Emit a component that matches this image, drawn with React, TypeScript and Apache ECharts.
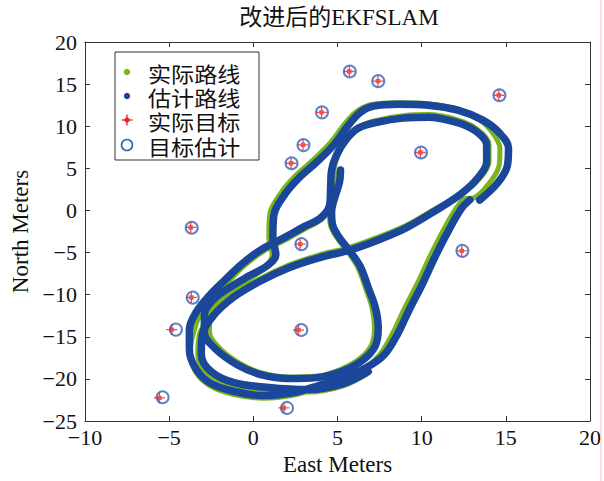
import React, { useEffect, useRef } from "react";
import * as echarts from "echarts";

const FONT = '"Liberation Serif", "Noto Sans CJK SC", serif';
const CJK = '"Noto Sans CJK SC", sans-serif';

const titleText = "改进后的EKFSLAM";
const xName = "East Meters";
const yName = "North Meters";
const legendNames = ["实际路线", "估计路线", "实际目标", "目标估计"];
const xTickLabels = ["−10", "−5", "0", "5", "10", "15", "20"];
const yTickLabels = ["−25", "−20", "−15", "−10", "−5", "0", "5", "10", "15", "20"];

// estimated path, first strand (start -> inner bottom loop -> outer top arc)
const estPathA: number[][] = [
  [5.18, 4.8], [5.12, 3.38], [4.83, 1.48], [4.65, -0.18], [4.71, -1.72], [5.12, -3.26],
  [5.77, -4.92], [6.36, -6.69], [6.83, -9.18], [7.25, -11.55], [7.42, -13.92], [7.25, -16.05],
  [6.54, -17.71], [5.36, -19.02], [3.76, -19.85], [2.11, -19.96], [0.45, -19.49], [-0.96, -18.31],
  [-2.2, -16.53], [-2.91, -14.51], [-2.91, -12.38], [-2.38, -10.6], [-1.44, -9.18], [-0.25, -7.76],
  [0.81, -6.58], [1.34, -5.27], [1.16, -3.26], [1.22, -0.53], [1.93, 2.07], [2.7, 3.85],
  [3.7, 5.63], [4.77, 7.76], [5.65, 10.13], [6.36, 11.67], [7.13, 12.38], [8.61, 12.62],
  [10.38, 12.5], [12.15, 11.91], [13.63, 10.72], [14.63, 9.18], [15.16, 7.41], [15.1, 5.39],
  [14.51, 3.26], [13.45, 1.24],
];

// estimated path, second strand (after the jump)
const estPathB: number[][] = [
  [12.86, 1.24], [12.39, 0.3], [11.68, -2.07], [10.85, -5.27], [10.08, -8.59], [9.26, -11.79],
  [8.55, -14.75], [7.78, -17.12], [6.72, -18.66], [5.36, -19.85], [3.88, -20.79], [2.4, -21.62],
  [0.63, -21.98], [-1.14, -21.5], [-2.5, -20.56], [-3.38, -18.9], [-3.8, -16.53], [-3.8, -14.16],
  [-3.38, -12.03], [-2.62, -10.13], [-1.67, -8.23], [-0.67, -6.34], [0.45, -4.68], [1.81, -3.26],
  [2.99, -1.95], [4.0, -0.89], [4.53, 0.65], [4.59, 2.67], [4.65, 4.8], [4.94, 6.58],
  [5.53, 8.47], [6.24, 9.77], [7.42, 10.49], [8.9, 10.96], [10.38, 11.08], [12.03, 10.49],
  [13.21, 9.42], [13.86, 7.76], [13.86, 5.75], [13.33, 3.85], [12.33, 1.96], [10.79, -0.06],
  [9.08, -2.07], [7.42, -3.5], [5.77, -4.68], [3.88, -5.63], [2.11, -6.81], [0.34, -8.47],
  [-1.14, -10.25], [-2.32, -12.38], [-3.03, -14.75], [-3.09, -17.12], [-2.5, -19.13], [-1.14, -20.44],
  [0.93, -21.03], [3.29, -21.27], [5.36, -20.56], [6.83, -19.13],
];

// actual path
const truePath: number[][] = [
  [5.05, 4.75], [4.98, 3.35], [4.7, 1.45], [4.52, -0.2], [4.58, -1.75], [4.98, -3.3],
  [5.62, -4.95], [6.2, -6.72], [6.66, -9.2], [7.05, -11.55], [7.2, -13.9], [7.02, -15.95],
  [6.35, -17.55], [5.2, -18.85], [3.7, -19.7], [2.1, -19.8], [0.5, -19.3], [-0.8, -18.15],
  [-1.95, -16.45], [-2.6, -14.5], [-2.6, -12.45], [-2.1, -10.75], [-1.25, -9.4], [-0.1, -7.95],
  [0.7, -6.75], [1.12, -5.3], [0.92, -3.2], [0.98, -0.4], [1.7, 2.25], [2.47, 4.05],
  [3.47, 5.85], [4.55, 7.98], [5.45, 10.35], [6.2, 11.85], [7.05, 12.58], [8.6, 12.8],
  [10.4, 12.68], [12.1, 12.05], [13.45, 10.75], [14.25, 9.1], [14.65, 7.35], [14.6, 5.35],
  [14.0, 3.2], [13.1, 1.5],
  [12.6, 1.4], [12.1, 0.4], [11.38, -2.0], [10.55, -5.2], [9.78, -8.52], [8.96, -11.72],
  [8.25, -14.7], [7.5, -17.15], [6.55, -18.85], [5.25, -20.1], [3.8, -21.1], [2.35, -21.95],
  [0.6, -22.3], [-1.15, -21.85], [-2.55, -20.85], [-3.45, -19.1], [-3.75, -16.6], [-3.5, -14.2],
  [-3.1, -12.1], [-2.35, -10.3], [-1.45, -8.4], [-0.5, -6.5], [0.6, -4.85], [1.95, -3.45],
  [3.1, -2.15], [4.1, -1.0], [4.65, 0.6], [4.72, 2.65], [4.78, 4.8], [5.05, 6.65],
  [5.65, 8.6], [6.3, 9.95], [7.45, 10.75], [8.9, 11.25], [10.4, 11.38], [12.05, 10.8],
  [13.3, 9.65], [14.0, 7.85], [14.0, 5.75], [13.45, 3.8], [12.4, 1.95], [10.85, 0.25],
  [9.1, -1.75], [7.42, -3.15], [5.77, -4.35], [3.88, -5.3], [2.11, -6.5], [0.3, -8.2],
  [-1.2, -10.0], [-2.4, -12.2], [-3.2, -14.7], [-3.3, -17.2], [-2.7, -19.35], [-1.25, -20.75],
  [0.9, -21.35], [3.3, -21.55], [5.3, -20.85], [6.75, -19.4],
];

const trueLandmarks: number[][] = [
  [5.7, 16.5], [7.4, 15.35], [14.58, 13.68], [4.05, 11.65], [2.95, 7.78], [9.92, 6.88],
  [2.24, 5.6], [-3.72, -2.02], [2.78, -4.0], [12.38, -4.8], [-3.68, -10.33], [-4.85, -14.15],
  [2.68, -14.2], [-5.58, -22.25], [1.81, -23.45],
];

const estLandmarks: number[][] = [
  [5.73, 16.5], [7.42, 15.35], [14.62, 13.68], [4.08, 11.65], [2.98, 7.76], [9.96, 6.88],
  [2.27, 5.6], [-3.66, -2.06], [2.86, -4.0], [12.42, -4.8], [-3.6, -10.35], [-4.6, -14.15],
  [2.85, -14.2], [-5.39, -22.18], [2.0, -23.45],
];

const GREEN = "#7ab51e";
const BLUE = "#1a4799";
const RED = "#ea2028";
const RING = "#3563b8";
const AX = "#333333";

const plusPath =
  "path://M4.4,0L5.6,0L5.6,3L7,3L7,4.4L10,4.4L10,5.6L7,5.6L7,7L5.6,7L5.6,10L4.4,10L4.4,7L3,7L3,5.6L0,5.6L0,4.4L3,4.4L3,3L4.4,3Z";

function baseAxis(extra: any) {
  return {
    type: "value",
    splitLine: { show: false },
    axisLine: { show: true, onZero: false, lineStyle: { color: AX, width: 1 } },
    axisTick: { show: true, inside: true, length: 5, lineStyle: { color: AX } },
    ...extra,
  };
}

export default function App() {
  const ref = useRef<HTMLDivElement>(null);
  useEffect(() => {
    const chart = echarts.init(ref.current as HTMLDivElement, null, { renderer: "svg" });
    const rowY = [72, 96, 120, 145];
    const legendX = 127;
    chart.setOption({
      animation: false,
      backgroundColor: "#ffffff",
      textStyle: { fontFamily: FONT },
      title: {
        text: titleText,
        left: 339,
        top: 6,
        padding: 0,
        textAlign: "center",
        textStyle: { fontSize: 23, fontWeight: "normal", color: "#111", fontFamily: FONT },
      },
      grid: { left: 85, right: 11, top: 42, bottom: 59 },
      xAxis: [
        baseAxis({
          min: -10, max: 20, interval: 5, position: "bottom",
          name: xName, nameLocation: "middle", nameGap: 32,
          nameTextStyle: { fontSize: 23, color: "#111", fontFamily: FONT },
          axisLabel: { fontSize: 22, color: "#111", margin: 5, fontFamily: FONT,
            formatter: (_v: number, i: number) => xTickLabels[i] },
        }),
        baseAxis({ min: -10, max: 20, interval: 5, position: "top", axisLabel: { show: false } }),
      ],
      yAxis: [
        baseAxis({
          min: -25, max: 20, interval: 5, position: "left",
          name: yName, nameLocation: "middle", nameGap: 52,
          nameTextStyle: { fontSize: 23, color: "#111", fontFamily: FONT },
          axisLabel: { fontSize: 22, color: "#111", margin: 8, fontFamily: FONT,
            formatter: (_v: number, i: number) => yTickLabels[i] },
        }),
        baseAxis({ min: -25, max: 20, interval: 5, position: "right", axisLabel: { show: false } }),
      ],
      series: [
        {
          name: legendNames[0], type: "line", data: truePath, smooth: 0.35, showSymbol: false,
          lineStyle: { color: GREEN, width: 5 }, z: 2, silent: true,
        },
        {
          name: legendNames[1], type: "line", data: estPathA, smooth: 0.35, showSymbol: false,
          lineStyle: { color: BLUE, width: 7.5, cap: "round" }, z: 3, silent: true,
        },
        {
          name: legendNames[1], type: "line", data: estPathB, smooth: 0.35, showSymbol: false,
          lineStyle: { color: BLUE, width: 7.5, cap: "round" }, z: 3, silent: true,
        },
        {
          name: legendNames[3], type: "scatter", data: estLandmarks, symbol: "emptyCircle",
          symbolSize: 12, itemStyle: { color: RING, borderColor: RING, borderWidth: 1.6 }, z: 4,
        },
        {
          name: legendNames[2], type: "scatter", data: trueLandmarks, symbol: plusPath,
          symbolSize: 11, itemStyle: { color: RED }, z: 5,
        },
      ],
      graphic: [
        { type: "line", shape: { x1: 601, y1: 0, x2: 601, y2: 481 }, style: { stroke: "#f3c2c2", lineWidth: 1 }, z: 1 },
        {
          type: "group", z: 100,
          children: [
            { type: "rect", shape: { x: 115, y: 52, width: 144, height: 108 },
              style: { fill: "#ffffff", stroke: AX, lineWidth: 1 } },
            { type: "circle", shape: { cx: legendX, cy: rowY[0], r: 3.2 }, style: { fill: GREEN } },
            { type: "circle", shape: { cx: legendX, cy: rowY[1], r: 3.2 }, style: { fill: BLUE } },
            { type: "line", shape: { x1: legendX - 5.5, y1: rowY[2], x2: legendX + 5.5, y2: rowY[2] }, style: { stroke: RED, lineWidth: 1.3 } },
            { type: "line", shape: { x1: legendX, y1: rowY[2] - 5.5, x2: legendX, y2: rowY[2] + 5.5 }, style: { stroke: RED, lineWidth: 1.3 } },
            { type: "circle", shape: { cx: legendX, cy: rowY[2], r: 2.6 }, style: { fill: RED } },
            { type: "circle", shape: { cx: legendX, cy: rowY[3], r: 5.5 }, style: { fill: "#fff", stroke: RING, lineWidth: 1.6 } },
            ...legendNames.map((t, i) => ({
              type: "text",
              x: 148,
              y: rowY[i],
              scaleX: 1.1,
              style: { text: t, x: 0, y: 0, fill: "#111", font: `21px ${CJK}`, verticalAlign: "middle", align: "left" },
            })),
          ],
        },
      ],
    });
    return () => chart.dispose();
  }, []);
  return (
    <div
      ref={ref}
      style={{ position: "absolute", left: 0, top: 0, width: 604, height: 481, background: "#fff" }}
    />
  );
}
